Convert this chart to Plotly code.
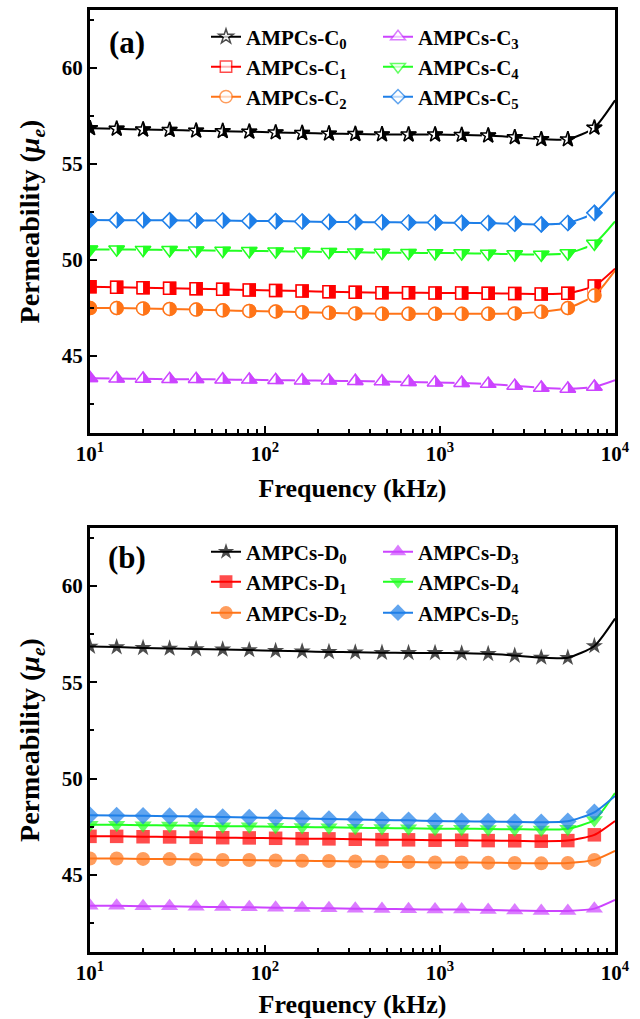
import plotly.graph_objects as go

# ---------------- data ----------------
freq = [10, 14.2, 20.1, 28.5, 40.4, 57.3, 81.3, 115, 163, 232, 328, 466,
        661, 937, 1330, 1885, 2673, 3790, 5375, 7622, 10000]

names_a = ["AMPCs-C<sub>0</sub>", "AMPCs-C<sub>1</sub>", "AMPCs-C<sub>2</sub>",
           "AMPCs-C<sub>3</sub>", "AMPCs-C<sub>4</sub>", "AMPCs-C<sub>5</sub>"]
names_b = ["AMPCs-D<sub>0</sub>", "AMPCs-D<sub>1</sub>", "AMPCs-D<sub>2</sub>",
           "AMPCs-D<sub>3</sub>", "AMPCs-D<sub>4</sub>", "AMPCs-D<sub>5</sub>"]

C0 = [56.85, 56.82, 56.78, 56.76, 56.72, 56.70, 56.67, 56.63, 56.60, 56.57, 56.55,
      56.53, 56.52, 56.52, 56.50, 56.47, 56.38, 56.28, 56.27, 56.88, 58.3]
C1 = [48.60, 48.58, 48.56, 48.53, 48.50, 48.47, 48.44, 48.41, 48.38, 48.35, 48.32,
      48.30, 48.30, 48.28, 48.28, 48.27, 48.25, 48.23, 48.27, 48.65, 49.55]
C2 = [47.50, 47.50, 47.48, 47.45, 47.42, 47.38, 47.35, 47.32, 47.28, 47.25, 47.22,
      47.20, 47.20, 47.20, 47.20, 47.20, 47.22, 47.30, 47.50, 48.15, 49.45]
C3 = [43.85, 43.83, 43.82, 43.80, 43.80, 43.78, 43.77, 43.75, 43.73, 43.72, 43.70,
      43.68, 43.65, 43.62, 43.60, 43.55, 43.45, 43.35, 43.30, 43.40, 43.75]
C4 = [50.55, 50.55, 50.53, 50.52, 50.50, 50.48, 50.47, 50.45, 50.44, 50.42, 50.40,
      50.38, 50.37, 50.36, 50.35, 50.33, 50.30, 50.28, 50.35, 50.85, 52.0]
C5 = [52.08, 52.07, 52.07, 52.06, 52.05, 52.05, 52.03, 52.02, 52.00, 51.98, 51.97,
      51.96, 51.95, 51.95, 51.93, 51.92, 51.88, 51.85, 51.92, 52.45, 53.55]

D0 = [56.85, 56.82, 56.78, 56.75, 56.72, 56.70, 56.67, 56.63, 56.60, 56.57, 56.55,
      56.53, 56.52, 56.52, 56.50, 56.47, 56.38, 56.28, 56.27, 56.88, 58.3]
D1 = [47.00, 47.00, 46.98, 46.97, 46.95, 46.93, 46.92, 46.90, 46.88, 46.87, 46.85,
      46.83, 46.82, 46.80, 46.80, 46.78, 46.77, 46.75, 46.78, 47.08, 47.8]
D2 = [45.85, 45.85, 45.83, 45.82, 45.80, 45.78, 45.77, 45.75, 45.73, 45.72, 45.70,
      45.68, 45.67, 45.65, 45.65, 45.63, 45.62, 45.60, 45.62, 45.78, 46.25]
D3 = [43.40, 43.40, 43.38, 43.37, 43.35, 43.33, 43.32, 43.30, 43.28, 43.27, 43.25,
      43.23, 43.22, 43.20, 43.20, 43.18, 43.15, 43.13, 43.13, 43.25, 43.7]
D4 = [47.60, 47.60, 47.58, 47.57, 47.55, 47.53, 47.52, 47.50, 47.48, 47.47, 47.45,
      47.43, 47.42, 47.40, 47.40, 47.38, 47.37, 47.35, 47.40, 47.85, 49.25]
D5 = [48.10, 48.08, 48.07, 48.05, 48.03, 48.00, 47.98, 47.96, 47.93, 47.90, 47.88,
      47.85, 47.83, 47.80, 47.78, 47.77, 47.75, 47.73, 47.78, 48.25, 49.1]

series_a = [C0, C1, C2, C3, C4, C5]
series_b = [D0, D1, D2, D3, D4, D5]

x_tickvals = [10, 100, 1000, 10000]
x_ticktext = ["10<sup>1</sup>", "10<sup>2</sup>", "10<sup>3</sup>", "10<sup>4</sup>"]
x_minor = [m * 10 ** d for d in (1, 2, 3) for m in range(2, 10)]
y_tickvals = [45, 50, 55, 60]

# ---------------- style ----------------
colors = ["#000000", "#FF0000", "#FF7418", "#CC44FF", "#22FF22", "#1E7FE8"]
symbols = ["star", "square", "circle", "triangle-up", "triangle-down", "diamond"]
size_a = [11.5, 12, 13, 13.5, 13.5, 11.5]
size_b = [13, 13.5, 14, 15, 15, 13.5]

FONT = "Liberation Serif, Times New Roman, serif"
W, H = 640, 1019
ML, MR, MT, MB = 90, 25, 10, 67
PW = W - ML - MR
PH = H - MT - MB
PX_PER_DEC = PW / 3.0

top_a, bot_a = 10, 433
top_b, bot_b = 528, 952


def py2paper(py):
    return (H - MB - py) / PH


def bar_spec(sym, s):
    r = s / 2.0
    if sym == "star":
        hw, hh = 1.1 * r, 1.45 * r
    elif sym in ("square", "circle"):
        hw, hh = 1.0 * r, 1.05 * r
    elif sym.startswith("triangle"):
        hw, hh = 1.05 * r, 1.05 * r
    else:  # diamond
        hw, hh = 1.3 * r, 1.35 * r
    return hw, 2 * hh / 1.4


fig = go.Figure()

leg_rows_a = [37, 67, 97]
leg_rows_b = [552, 582, 613]
leg_cols = [206, 378]

legend_defs = {}
leg_counter = [0]


def new_legend(px, py):
    leg_counter[0] += 1
    key = "legend" if leg_counter[0] == 1 else "legend%d" % leg_counter[0]
    legend_defs[key] = dict(
        x=(px - ML) / PW, y=py2paper(py), xanchor="left", yanchor="middle",
        orientation="v", bgcolor="rgba(0,0,0,0)", borderwidth=0,
        font=dict(family=FONT, size=21, color="black", weight="bold"),
        tracegroupgap=0, itemclick=False, itemdoubleclick=False)
    return key


nm = len(freq) - 1

# ----- panel (a): half-filled markers -----
for i, ys in enumerate(series_a):
    col, row = i // 3, i % 3
    lk = new_legend(leg_cols[col], leg_rows_a[row])
    s = size_a[i]
    sym = symbols[i]
    fig.add_trace(go.Scatter(
        x=freq, y=ys, mode="lines+markers", name=names_a[i], legend=lk,
        line=dict(color=colors[i], width=2, shape="spline", smoothing=0.6),
        marker=dict(symbol=sym, size=[s] * nm + [0], color="white",
                    line=dict(color=colors[i], width=1.5)),
        xaxis="x", yaxis="y", hoverinfo="skip"))
    fig.add_trace(go.Scatter(
        x=freq[:nm], y=ys[:nm], mode="markers", showlegend=False,
        marker=dict(symbol=sym, size=s, color=colors[i], line=dict(width=0)),
        xaxis="x", yaxis="y", hoverinfo="skip"))
    hw, sb = bar_spec(sym, s)
    fac = 10 ** (-(hw / 2.0) / PX_PER_DEC)
    fig.add_trace(go.Scatter(
        x=[f * fac for f in freq[:nm]], y=ys[:nm], mode="markers", showlegend=False,
        marker=dict(symbol="line-ns", size=sb, color="white",
                    line=dict(color="white", width=hw)),
        xaxis="x", yaxis="y", hoverinfo="skip"))
    fig.add_trace(go.Scatter(
        x=freq[:nm], y=ys[:nm], mode="markers", showlegend=False,
        marker=dict(symbol=sym + "-open", size=s, color=colors[i],
                    line=dict(color=colors[i], width=1.5)),
        xaxis="x", yaxis="y", hoverinfo="skip"))

# ----- panel (b): filled markers -----
for i, ys in enumerate(series_b):
    col, row = i // 3, i % 3
    lk = new_legend(leg_cols[col], leg_rows_b[row])
    s = size_b[i]
    fig.add_trace(go.Scatter(
        x=freq, y=ys, mode="lines+markers", name=names_b[i], legend=lk,
        line=dict(color=colors[i], width=2, shape="spline", smoothing=0.6),
        marker=dict(symbol=symbols[i], size=[s] * nm + [0], color=colors[i],
                    line=dict(width=0)),
        xaxis="x2", yaxis="y2", hoverinfo="skip"))

xcommon = dict(
    type="log", range=[1, 4], tickmode="array", tickvals=x_tickvals, ticktext=x_ticktext,
    ticks="inside", ticklen=7, tickwidth=2, tickcolor="black",
    minor=dict(tickmode="array", tickvals=x_minor, ticks="inside", ticklen=4,
               tickwidth=1.5, tickcolor="black", showgrid=False),
    showline=True, linewidth=3, linecolor="black", mirror=True,
    showgrid=False, zeroline=False,
    tickfont=dict(family=FONT, size=21, color="black", weight="bold"),
    title=dict(text="Frequency (kHz)",
               font=dict(family=FONT, size=26, color="black", weight="bold"),
               standoff=14),
)
ycommon = dict(
    range=[41, 63], tickmode="array", tickvals=y_tickvals,
    ticks="inside", ticklen=7, tickwidth=2, tickcolor="black",
    minor=dict(dtick=2.5, tick0=0, ticks="inside", ticklen=4, tickwidth=1.5,
               tickcolor="black", showgrid=False),
    showline=True, linewidth=3, linecolor="black", mirror=True,
    showgrid=False, zeroline=False,
    tickfont=dict(family=FONT, size=21, color="black", weight="bold"),
    title=dict(text="Permeability (<i>μ</i><sub><i>e</i></sub>)",
               font=dict(family=FONT, size=28, color="black", weight="bold"),
               standoff=14),
)

layout = dict(
    width=W, height=H, margin=dict(l=ML, r=MR, t=MT, b=MB, autoexpand=False),
    paper_bgcolor="white", plot_bgcolor="white", hovermode=False,
    font=dict(family=FONT, color="black"),
    xaxis=dict(domain=[0, 1], anchor="y", **xcommon),
    yaxis=dict(domain=[py2paper(bot_a), 1], anchor="x", **ycommon),
    xaxis2=dict(domain=[0, 1], anchor="y2", **xcommon),
    yaxis2=dict(domain=[0, py2paper(top_b)], anchor="x2", **ycommon),
    annotations=[
        dict(text="(a)", xref="x domain", yref="y domain", x=(127 - ML) / PW,
             y=1 - (42 - top_a) / (bot_a - top_a), showarrow=False,
             xanchor="center", yanchor="middle",
             font=dict(family=FONT, size=31, color="black", weight="bold")),
        dict(text="(b)", xref="x2 domain", yref="y2 domain", x=(127 - ML) / PW,
             y=1 - (557 - top_b) / (bot_b - top_b), showarrow=False,
             xanchor="center", yanchor="middle",
             font=dict(family=FONT, size=31, color="black", weight="bold")),
    ],
)
layout.update(legend_defs)
fig.update_layout(**layout)

fig.write_html("out.html")
